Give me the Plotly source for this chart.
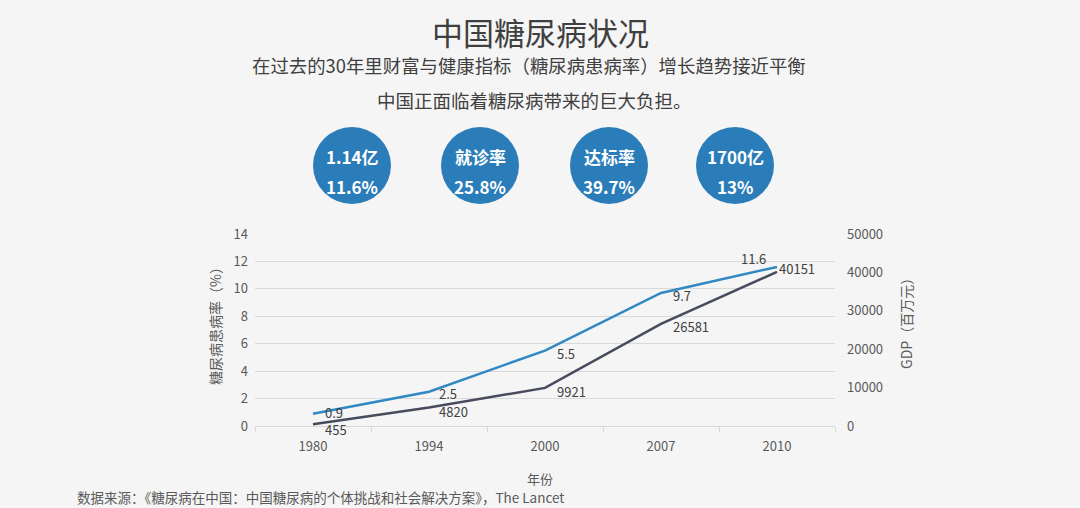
import plotly.graph_objects as go

# data
years = ['1980', '1994', '2000', '2007', '2010']
prevalence = [0.9, 2.5, 5.5, 9.7, 11.6]          # 糖尿病患病率 (%)
gdp = [455, 4820, 9921, 26581, 40151]            # GDP (百万元)

badge_top = ['1.14亿', '就诊率', '达标率', '1700亿']
badge_bottom = ['11.6%', '25.8%', '39.7%', '13%']

# label offsets (pixels) from each point
prev_shift = [(10, 1), (8, -2), (10, -3), (10, -3), (-9, 8)]
gdp_shift = [(10, -5), (8, -4), (10, -4), (10, -3), (0, 3)]

FONT = 'Noto Sans CJK SC'
BLUE = '#3189c3'
DARK = '#474b5c'
BADGE = '#2b7db9'
BG = '#f5f5f5'
TXT = '#404040'

# plot area in pixels, used to place the decorations above it
L, R, T, B = 255, 835, 234, 426


def px(x):
    return (x - L) / (R - L)


def py(y):
    return (B - y) / (B - T)


def note(x, y, text, size, color=TXT, **kw):
    d = dict(x=px(x), y=py(y), xref='paper', yref='paper', showarrow=False,
             xanchor='center', yanchor='middle', text=text,
             font=dict(size=size, color=color, family=FONT))
    d.update(kw)
    return d


fig = go.Figure()

fig.add_trace(go.Scatter(x=years, y=prevalence, mode='lines', name='糖尿病患病率',
                         line=dict(color=BLUE, width=2.5)))
fig.add_trace(go.Scatter(x=years, y=gdp, mode='lines', name='GDP', yaxis='y2',
                         line=dict(color=DARK, width=2.5)))

annotations = []

# data labels (x given as category index)
for i, (v, (dx, dy)) in enumerate(zip(prevalence, prev_shift)):
    annotations.append(dict(x=i, y=v, xref='x', yref='y', text=str(v), showarrow=False,
                            xanchor='left' if dx >= 0 else 'right', yanchor='middle',
                            xshift=dx, yshift=dy,
                            font=dict(size=13, color=TXT, family=FONT)))
for i, (v, (dx, dy)) in enumerate(zip(gdp, gdp_shift)):
    annotations.append(dict(x=i, y=v, xref='x', yref='y2', text=str(v), showarrow=False,
                            xanchor='left' if dx >= 0 else 'right', yanchor='middle',
                            xshift=dx, yshift=dy,
                            font=dict(size=13, color=TXT, family=FONT)))

# blue badges with the key figures
centers = [352, 480, 609, 735]
shapes = []
for cx, top, bottom in zip(centers, badge_top, badge_bottom):
    shapes.append(dict(type='circle', xref='paper', yref='paper',
                       x0=px(cx - 39), x1=px(cx + 39), y0=py(204), y1=py(127),
                       fillcolor=BADGE, line=dict(width=0), layer='above'))
    annotations.append(note(cx, 156, '<b>%s</b>' % top, 17, 'white'))
    annotations.append(note(cx, 186, '<b>%s</b>' % bottom, 17, 'white'))

# headings, axis titles and source
annotations += [
    note(540, 32, '中国糖尿病状况', 31, '#3f3f3f'),
    note(529, 65, '在过去的30年里财富与健康指标（糖尿病患病率）增长趋势接近平衡', 18.4),
    note(534, 100, '中国正面临着糖尿病带来的巨大负担。', 18.5),
    note(215, 323, '糖尿病患病率（%）', 14, '#595959', textangle=-90),
    note(906, 320, 'GDP（百万元）', 14, '#595959', textangle=-90),
    note(540, 478, '年份', 13, '#595959'),
    note(75, 497, '数据来源：《糖尿病在中国：中国糖尿病的个体挑战和社会解决方案》，The Lancet',
         13.5, '#595959', xanchor='left'),
]

fig.update_layout(
    width=1080, height=508,
    margin=dict(l=L, r=1080 - R, t=T, b=508 - B, pad=0),
    paper_bgcolor=BG, plot_bgcolor=BG,
    showlegend=False,
    font=dict(family=FONT, color='#595959', size=13),
    xaxis=dict(type='category', range=[-0.5, len(years) - 0.5], showgrid=False,
               showline=True, linecolor='#d9d9d9',
               ticks='outside', tickson='boundaries', ticklen=5, tickcolor='#d9d9d9',
               tickfont=dict(size=13, color='#595959'), ticklabelstandoff=8),
    yaxis=dict(range=[0, 14], dtick=2, gridcolor='#d9d9d9', zeroline=False,
               tickfont=dict(size=13, color='#595959'), ticklabelstandoff=6),
    yaxis2=dict(range=[0, 50000], dtick=10000, tickformat='d', overlaying='y', side='right',
                showgrid=False, zeroline=False,
                tickfont=dict(size=13, color='#595959'), ticklabelstandoff=11),
    shapes=shapes,
    annotations=annotations,
)

fig.write_html('out.html', config={'displayModeBar': False},
               post_script="document.body.style.margin='0';")
